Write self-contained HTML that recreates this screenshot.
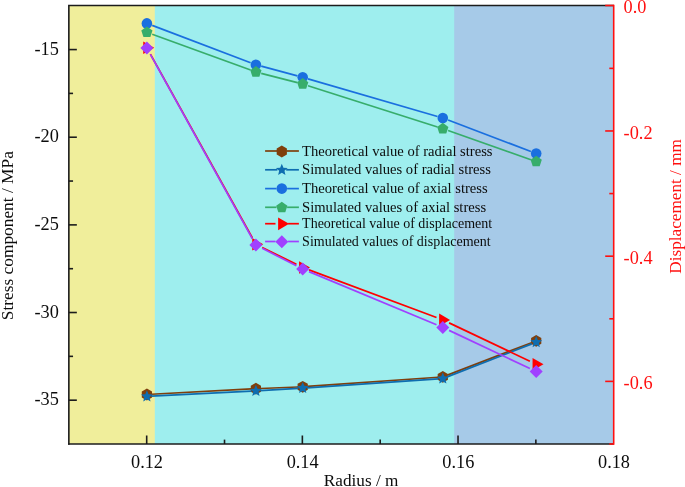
<!DOCTYPE html>
<html lang="en"><head><meta charset="utf-8"><title>Stress component and displacement vs radius</title>
<style>html,body{margin:0;padding:0;background:#fff}body{width:685px;height:487px;overflow:hidden}svg{display:block}text{font-family:'Liberation Serif', 'Times New Roman', serif}</style></head><body>
<svg width="685" height="487" viewBox="0 0 685 487">
<rect width="685" height="487" fill="#fff"/>
<rect x="68.85" y="5.50" width="544.85" height="438.50" fill="#f0ee9b"/>
<rect x="154.80" y="5.50" width="458.90" height="438.50" fill="#9eeeee"/>
<rect x="454.20" y="5.50" width="159.50" height="438.50" fill="#a6cae8"/>
<g>
<line x1="151.50" y1="394.26" x2="251.30" y2="388.94" stroke="#7f3f0c" stroke-width="1.70"/>
<line x1="260.50" y1="388.51" x2="298.10" y2="386.99" stroke="#7f3f0c" stroke-width="1.70"/>
<line x1="307.30" y1="386.47" x2="438.20" y2="377.23" stroke="#7f3f0c" stroke-width="1.70"/>
<line x1="447.40" y1="375.13" x2="531.60" y2="342.67" stroke="#7f3f0c" stroke-width="1.70"/>
<polygon points="146.90,388.60 152.01,391.55 152.01,397.45 146.90,400.40 141.79,397.45 141.79,391.55" fill="#7f3f0c"/>
<polygon points="255.90,382.80 261.01,385.75 261.01,391.65 255.90,394.60 250.79,391.65 250.79,385.75" fill="#7f3f0c"/>
<polygon points="302.70,380.90 307.81,383.85 307.81,389.75 302.70,392.70 297.59,389.75 297.59,383.85" fill="#7f3f0c"/>
<polygon points="442.80,371.00 447.91,373.95 447.91,379.85 442.80,382.80 437.69,379.85 437.69,373.95" fill="#7f3f0c"/>
<polygon points="536.20,335.00 541.31,337.95 541.31,343.85 536.20,346.80 531.09,343.85 531.09,337.95" fill="#7f3f0c"/>
</g>
<g>
<line x1="151.30" y1="396.18" x2="251.50" y2="391.12" stroke="#0e6db0" stroke-width="1.70"/>
<line x1="260.30" y1="390.64" x2="298.30" y2="388.36" stroke="#0e6db0" stroke-width="1.70"/>
<line x1="307.10" y1="387.80" x2="438.40" y2="378.90" stroke="#0e6db0" stroke-width="1.70"/>
<line x1="447.20" y1="376.89" x2="531.80" y2="343.91" stroke="#0e6db0" stroke-width="1.70"/>
<polygon points="146.90,390.20 148.54,394.14 152.80,394.48 149.55,397.26 150.54,401.42 146.90,399.19 143.26,401.42 144.25,397.26 141.00,394.48 145.26,394.14" fill="#0e6db0"/>
<polygon points="255.90,384.70 257.54,388.64 261.80,388.98 258.55,391.76 259.54,395.92 255.90,393.69 252.26,395.92 253.25,391.76 250.00,388.98 254.26,388.64" fill="#0e6db0"/>
<polygon points="302.70,381.90 304.34,385.84 308.60,386.18 305.35,388.96 306.34,393.12 302.70,390.89 299.06,393.12 300.05,388.96 296.80,386.18 301.06,385.84" fill="#0e6db0"/>
<polygon points="442.80,372.40 444.44,376.34 448.70,376.68 445.45,379.46 446.44,383.62 442.80,381.39 439.16,383.62 440.15,379.46 436.90,376.68 441.16,376.34" fill="#0e6db0"/>
<polygon points="536.20,336.00 537.84,339.94 542.10,340.28 538.85,343.06 539.84,347.22 536.20,344.99 532.56,347.22 533.55,343.06 530.30,340.28 534.56,339.94" fill="#0e6db0"/>
</g>
<g>
<line x1="152.20" y1="25.41" x2="250.60" y2="62.69" stroke="#1a6fdf" stroke-width="1.70"/>
<line x1="261.20" y1="66.13" x2="297.40" y2="75.87" stroke="#1a6fdf" stroke-width="1.70"/>
<line x1="308.00" y1="78.84" x2="437.50" y2="116.46" stroke="#1a6fdf" stroke-width="1.70"/>
<line x1="448.10" y1="120.01" x2="530.90" y2="151.49" stroke="#1a6fdf" stroke-width="1.70"/>
<circle cx="146.90" cy="23.40" r="5.3" fill="#1a6fdf"/>
<circle cx="255.90" cy="64.70" r="5.3" fill="#1a6fdf"/>
<circle cx="302.70" cy="77.30" r="5.3" fill="#1a6fdf"/>
<circle cx="442.80" cy="118.00" r="5.3" fill="#1a6fdf"/>
<circle cx="536.20" cy="153.50" r="5.3" fill="#1a6fdf"/>
</g>
<g>
<line x1="152.20" y1="34.23" x2="250.60" y2="70.07" stroke="#37ad6b" stroke-width="1.70"/>
<line x1="261.20" y1="73.36" x2="297.40" y2="82.64" stroke="#37ad6b" stroke-width="1.70"/>
<line x1="308.00" y1="85.69" x2="437.50" y2="127.01" stroke="#37ad6b" stroke-width="1.70"/>
<line x1="448.10" y1="130.57" x2="530.90" y2="159.73" stroke="#37ad6b" stroke-width="1.70"/>
<polygon points="146.90,26.40 152.51,30.48 150.37,37.07 143.43,37.07 141.29,30.48" fill="#37ad6b"/>
<polygon points="255.90,66.10 261.51,70.18 259.37,76.77 252.43,76.77 250.29,70.18" fill="#37ad6b"/>
<polygon points="302.70,78.10 308.31,82.18 306.17,88.77 299.23,88.77 297.09,82.18" fill="#37ad6b"/>
<polygon points="442.80,122.80 448.41,126.88 446.27,133.47 439.33,133.47 437.19,126.88" fill="#37ad6b"/>
<polygon points="536.20,155.70 541.81,159.78 539.67,166.37 532.73,166.37 530.59,159.78" fill="#37ad6b"/>
</g>
<g>
<line x1="150.39" y1="54.10" x2="252.41" y2="238.00" stroke="#ff0000" stroke-width="1.70"/>
<line x1="262.20" y1="247.42" x2="296.40" y2="264.38" stroke="#ff0000" stroke-width="1.70"/>
<line x1="309.00" y1="269.86" x2="436.50" y2="317.54" stroke="#ff0000" stroke-width="1.70"/>
<line x1="449.10" y1="322.89" x2="529.90" y2="361.21" stroke="#ff0000" stroke-width="1.70"/>
<polygon points="154.20,47.80 143.25,41.48 143.25,54.12" fill="#ff0000"/>
<polygon points="263.20,244.30 252.25,237.98 252.25,250.62" fill="#ff0000"/>
<polygon points="310.00,267.50 299.05,261.18 299.05,273.82" fill="#ff0000"/>
<polygon points="450.10,319.90 439.15,313.58 439.15,326.22" fill="#ff0000"/>
<polygon points="543.50,364.20 532.55,357.88 532.55,370.52" fill="#ff0000"/>
</g>
<g>
<line x1="150.39" y1="54.40" x2="252.41" y2="238.80" stroke="#a040ff" stroke-width="1.70"/>
<line x1="262.20" y1="248.32" x2="296.40" y2="265.78" stroke="#a040ff" stroke-width="1.70"/>
<line x1="309.00" y1="271.63" x2="436.50" y2="324.77" stroke="#a040ff" stroke-width="1.70"/>
<line x1="449.10" y1="330.37" x2="529.90" y2="368.53" stroke="#a040ff" stroke-width="1.70"/>
<polygon points="146.90,41.60 153.40,48.10 146.90,54.60 140.40,48.10" fill="#a040ff"/>
<polygon points="255.90,238.60 262.40,245.10 255.90,251.60 249.40,245.10" fill="#a040ff"/>
<polygon points="302.70,262.50 309.20,269.00 302.70,275.50 296.20,269.00" fill="#a040ff"/>
<polygon points="442.80,320.90 449.30,327.40 442.80,333.90 436.30,327.40" fill="#a040ff"/>
<polygon points="536.20,365.00 542.70,371.50 536.20,378.00 529.70,371.50" fill="#a040ff"/>
</g>
<g stroke="#1c1c1c" stroke-width="1.60" fill="none" stroke-linecap="butt">
<path d="M613.70 5.50 L68.85 5.50 L68.85 444.80"/>
<path d="M68.05 444.00 L613.70 444.00"/>
<path d="M68.85 49.58 h8.00"/>
<path d="M68.85 93.40 h4.20"/>
<path d="M68.85 137.22 h8.00"/>
<path d="M68.85 181.05 h4.20"/>
<path d="M68.85 224.88 h8.00"/>
<path d="M68.85 268.70 h4.20"/>
<path d="M68.85 312.52 h8.00"/>
<path d="M68.85 356.35 h4.20"/>
<path d="M68.85 400.18 h8.00"/>
<path d="M146.69 444.00 v-8.50"/>
<path d="M224.52 444.00 v-4.40"/>
<path d="M302.36 444.00 v-8.50"/>
<path d="M380.19 444.00 v-4.40"/>
<path d="M458.03 444.00 v-8.50"/>
<path d="M535.86 444.00 v-4.40"/>
</g>
<g stroke="#ff1010" stroke-width="1.60" fill="none">
<path d="M613.70 4.70 V444.80"/>
<path d="M613.70 5.50 h-8.50"/>
<path d="M613.70 68.36 h-4.40"/>
<path d="M613.70 130.96 h-8.50"/>
<path d="M613.70 193.57 h-4.40"/>
<path d="M613.70 256.18 h-8.50"/>
<path d="M613.70 318.79 h-4.40"/>
<path d="M613.70 381.39 h-8.50"/>
<path d="M613.70 444.00 h-4.40"/>
</g>
<g font-size="18.3" fill="#0c0c0c">
<text x="58.9" y="54.78" text-anchor="end">-15</text>
<text x="58.9" y="142.42" text-anchor="end">-20</text>
<text x="58.9" y="230.07" text-anchor="end">-25</text>
<text x="58.9" y="317.72" text-anchor="end">-30</text>
<text x="58.9" y="405.38" text-anchor="end">-35</text>
<text x="146.99" y="467.8" text-anchor="middle">0.12</text>
<text x="302.66" y="467.8" text-anchor="middle">0.14</text>
<text x="458.33" y="467.8" text-anchor="middle">0.16</text>
<text x="614.00" y="467.8" text-anchor="middle">0.18</text>
</g>
<g font-size="18.3" fill="#ff1010">
<text x="623.6" y="13.10">0.0</text>
<text x="623.6" y="138.56">-0.2</text>
<text x="623.6" y="263.78">-0.4</text>
<text x="623.6" y="388.99">-0.6</text>
</g>
<text x="361.1" y="485.6" font-size="17.2" fill="#0c0c0c" text-anchor="middle">Radius / m</text>
<text transform="translate(13.2,235.7) rotate(-90)" font-size="17.35" fill="#0c0c0c" text-anchor="middle">Stress component / MPa</text>
<text transform="translate(680.6,206.4) rotate(-90)" font-size="17.2" fill="#ff1010" text-anchor="middle">Displacement / mm</text>
<g>
<line x1="265.10" y1="151.00" x2="277.20" y2="151.00" stroke="#7f3f0c" stroke-width="1.70"/>
<line x1="286.40" y1="151.00" x2="298.90" y2="151.00" stroke="#7f3f0c" stroke-width="1.70"/>
<polygon points="281.80,145.60 286.91,148.55 286.91,154.45 281.80,157.40 276.69,154.45 276.69,148.55" fill="#7f3f0c"/>
<text x="302.10" y="156.00" font-size="14.6" fill="#0c0c0c">Theoretical value of radial stress</text>
</g>
<g>
<line x1="265.10" y1="169.80" x2="277.40" y2="169.80" stroke="#0e6db0" stroke-width="1.70"/>
<line x1="286.20" y1="169.80" x2="298.90" y2="169.80" stroke="#0e6db0" stroke-width="1.70"/>
<polygon points="281.80,163.80 283.44,167.74 287.70,168.08 284.45,170.86 285.44,175.02 281.80,172.79 278.16,175.02 279.15,170.86 275.90,168.08 280.16,167.74" fill="#0e6db0"/>
<text x="302.10" y="174.20" font-size="14.6" fill="#0c0c0c">Simulated values of radial stress</text>
</g>
<g>
<line x1="265.10" y1="188.60" x2="276.50" y2="188.60" stroke="#1a6fdf" stroke-width="1.70"/>
<line x1="287.10" y1="188.60" x2="298.90" y2="188.60" stroke="#1a6fdf" stroke-width="1.70"/>
<circle cx="281.80" cy="188.60" r="5.3" fill="#1a6fdf"/>
<text x="302.10" y="193.40" font-size="14.6" fill="#0c0c0c">Theoretical value of axial stress</text>
</g>
<g>
<line x1="265.10" y1="207.30" x2="276.50" y2="207.30" stroke="#37ad6b" stroke-width="1.70"/>
<line x1="287.10" y1="207.30" x2="298.90" y2="207.30" stroke="#37ad6b" stroke-width="1.70"/>
<polygon points="281.80,201.70 287.41,205.78 285.27,212.37 278.33,212.37 276.19,205.78" fill="#37ad6b"/>
<text x="302.10" y="212.00" font-size="14.6" fill="#0c0c0c">Simulated values of axial stress</text>
</g>
<g>
<line x1="265.10" y1="223.70" x2="275.50" y2="223.70" stroke="#ff0000" stroke-width="1.70"/>
<line x1="288.10" y1="223.70" x2="298.90" y2="223.70" stroke="#ff0000" stroke-width="1.70"/>
<polygon points="289.10,223.85 278.15,217.53 278.15,230.17" fill="#ff0000"/>
<text x="302.10" y="228.40" font-size="14.0" fill="#0c0c0c">Theoretical value of displacement</text>
</g>
<g>
<line x1="265.10" y1="241.50" x2="275.50" y2="241.50" stroke="#a040ff" stroke-width="1.70"/>
<line x1="288.10" y1="241.50" x2="298.90" y2="241.50" stroke="#a040ff" stroke-width="1.70"/>
<polygon points="281.80,235.20 288.30,241.70 281.80,248.20 275.30,241.70" fill="#a040ff"/>
<text x="302.10" y="246.40" font-size="14.0" fill="#0c0c0c">Simulated values of displacement</text>
</g>
</svg></body></html>
